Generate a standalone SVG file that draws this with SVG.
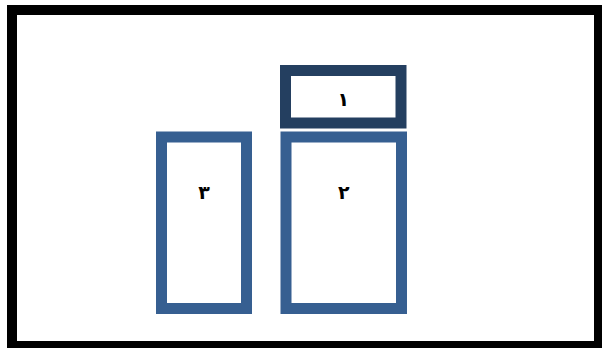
<svg xmlns="http://www.w3.org/2000/svg" width="602" height="348" viewBox="0 0 602 348">
<style>
.frame{fill:#fff;stroke:#000;stroke-width:10}
.box{fill:#fff;stroke:#365F91;stroke-width:11}
.top{fill:#fff;stroke:#243F60;stroke-width:11}
.lbl{font-family:"DejaVu Sans","Noto Sans",sans-serif;font-weight:bold;font-size:19px;fill:#000;text-anchor:middle}
</style>
<rect x="0" y="0" width="602" height="348" fill="#fff"/>
<rect class="frame" x="12" y="10" width="587" height="336"/>
<g id="node1">
<rect class="top" x="285.5" y="70.5" width="115.5" height="52.5"/>
<text class="lbl" x="343.3" y="106">١</text>
</g>
<g id="node2">
<rect class="box" x="286" y="137" width="115.5" height="171.5"/>
<text class="lbl" x="343.7" y="199">٢</text>
</g>
<g id="node3">
<rect class="box" x="161.5" y="137" width="85" height="171.5"/>
<text class="lbl" x="204" y="199">٣</text>
</g>
<g id="connectors"/>
</svg>
